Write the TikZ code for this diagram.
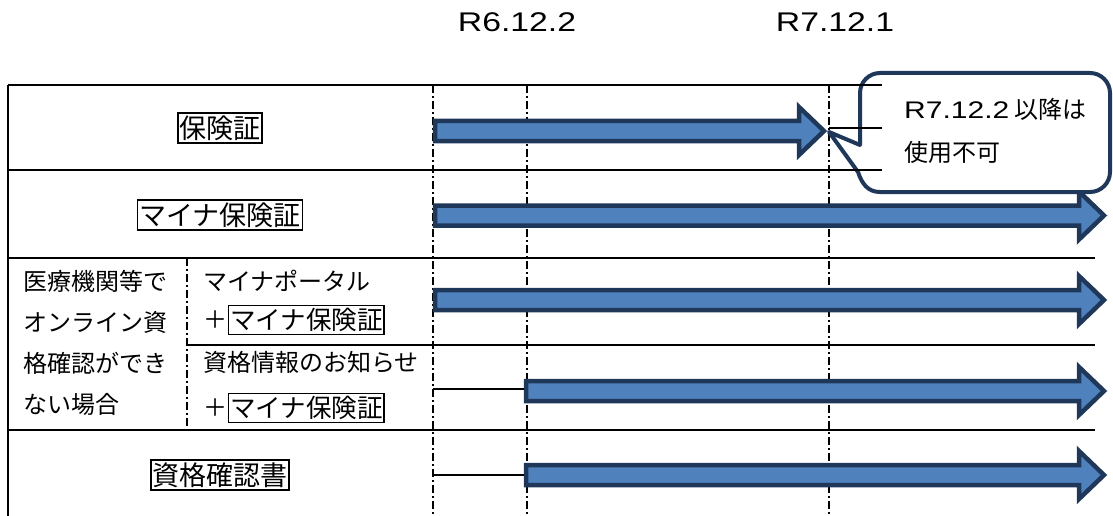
\documentclass[tikz,border=0pt]{standalone}
\usepackage{fontspec}
\setmainfont{Noto Sans CJK JP}
\newfontfamily\lat[FakeStretch=1.25]{Liberation Sans}
\definecolor{arrfill}{RGB}{79,129,189}
\definecolor{arrline}{RGB}{31,56,90}
\newcommand{\blockarrow}[3]{%
  \draw[blk] (#1,#3-10) -- (#2-25,#3-10) -- (#2-25,#3-24) -- (#2,#3) -- (#2-25,#3+24) -- (#2-25,#3+10) -- (#1,#3+10) -- cycle;}
\begin{document}
\begin{tikzpicture}[x=1pt,y=-1pt,
  gridline/.style={line width=2pt, dash pattern=on 8pt off 3pt on 2pt off 3pt},
  rule/.style={line width=2pt},
  thinline/.style={line width=1.3pt},
  blk/.style={draw=arrline, fill=arrfill, line width=4.5pt, line join=miter},
  callout/.style={draw=arrline, fill=white, line width=4pt, line join=round},
  lbl/.style={draw, line width=1.3pt, inner xsep=1.5pt, inner ysep=2.5pt, font=\fontsize{27pt}{30pt}\selectfont},
  txt/.style={inner sep=0pt, anchor=west, font=\fontsize{24pt}{28pt}\selectfont},
  hdr/.style={inner sep=0pt, font=\lat\fontsize{27pt}{30pt}\selectfont},
]
\useasboundingbox (0,0) rectangle (1113,516);

% header
\node[hdr] (h1) at (517,22) {R6.12.2};
\node[hdr] (h2) at (835,22) {R7.12.1};

% vertical dash-dot grid lines
\draw[gridline] (433,85) -- (433,516);
\draw[gridline] (527,85) -- (527,516);
\draw[gridline] (829,85) -- (829,516);
\draw[gridline] (187,258) -- (187,430);

% left border
\draw[rule] (8,85) -- (8,516);

% labels
\node[lbl] (hoken) at (220,128) {保険証};
\node[lbl] (myna) at (220,215) {マイナ保険証};
\node[lbl] (shikaku) at (220,475) {資格確認書};

\node[txt] (l1) at (23,281) {医療機関等で};
\node[txt] (l2) at (23,322) {オンライン資};
\node[txt] (l3) at (23,363) {格確認ができ};
\node[txt] (l4) at (23,404) {ない場合};

\node[txt] (s1) at (203,281) {マイナポータル};
\node[txt] (s2) at (203,320) {＋};
\node[lbl, anchor=west, font=\fontsize{25.5pt}{28pt}\selectfont] (s2b) at (228,320) {マイナ保険証};
\node[txt] (s3) at (203,362) {資格情報のお知らせ};
\node[txt] (s4) at (203,408) {＋};
\node[lbl, anchor=west, font=\fontsize{25.5pt}{28pt}\selectfont] (s4b) at (228,408) {マイナ保険証};

% connector stubs
\coordinate (c4a) at (433,389);
\coordinate (c4b) at (524,389);
\coordinate (c5a) at (433,475);
\coordinate (c5b) at (524,475);
\draw[thinline] (c4a) -- (c4b);
\draw[thinline] (c5a) -- (c5b);

% block arrows
\blockarrow{435}{824}{131}
\blockarrow{435}{1104}{215.5}
\blockarrow{435}{1104}{300}
\blockarrow{526}{1104}{391}
\blockarrow{526}{1104}{475}

% callout
\draw[callout] (829,132) -- (860,145) -- (860,93) .. controls (860,82) and (869,73) .. (880,73)
  -- (1090,73) .. controls (1101,73) and (1110,82) .. (1110,93)
  -- (1110,172) .. controls (1110,183) and (1101,192) .. (1090,192)
  -- (880,192) .. controls (868,192) and (862,184) .. (858,172) -- cycle;
\node[txt] (co1) at (904,109) {{\lat R7.12.2} 以降は};
\node[txt] (co2) at (904,152) {使用不可};

% horizontal rules
\draw[rule] (8,85) -- (882,85);
\draw[rule] (8,170) -- (882,170);
\draw[rule] (8,258) -- (1095,258);
\draw[rule] (187,345) -- (1095,345);
\draw[rule] (8,430) -- (1095,430);
\coordinate (p1) at (829,128);
\coordinate (p2) at (882,128);
\draw[thinline] (p1) -- (p2);
\end{tikzpicture}
\end{document}
